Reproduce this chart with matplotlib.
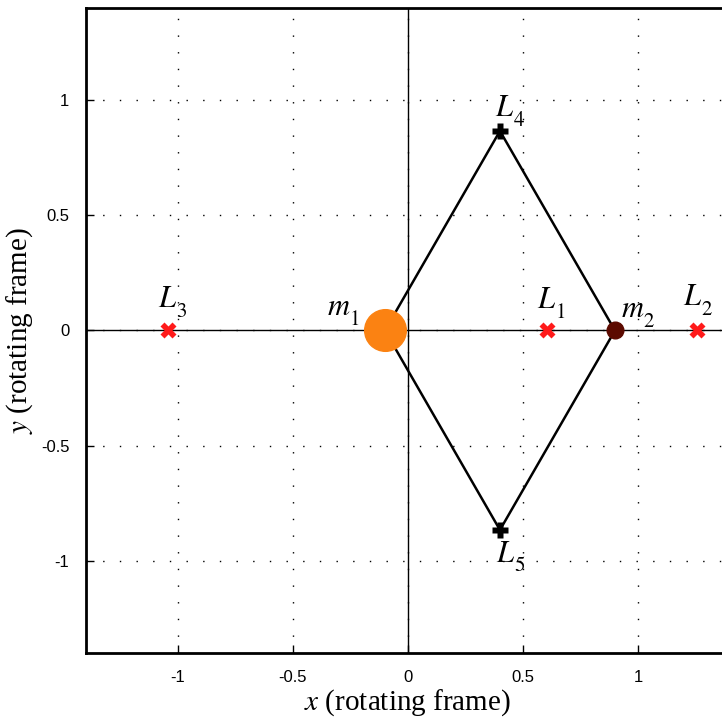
import matplotlib.pyplot as plt

plt.rcParams['mathtext.fontset'] = 'stix'

# primaries
m1_x, m2_x = -0.1, 0.9
# lagrange points
L_x = [0.604, 1.257, -1.043]
L_y = [0.0, 0.0, 0.0]
tri_x = [0.4, 0.4]
tri_y = [0.866, -0.866]

fig = plt.figure(figsize=(7.22, 7.17), dpi=100)
ax = fig.add_axes([0.119, 0.0893, 0.892, 0.8996])
ax.set_xlim(-1.4, 1.4)
ax.set_ylim(-1.4, 1.4)

ax.grid(True, color='black', linestyle=(0, (1, 11)), linewidth=1)
ax.axhline(0, color='black', lw=1, zorder=1)
ax.axvline(0, color='black', lw=1, zorder=1)

# equilateral triangles
ax.plot([m1_x, tri_x[0], m2_x, tri_x[1], m1_x],
        [0, tri_y[0], 0, tri_y[1], 0], color='black', lw=1.8, zorder=2)

ax.plot(L_x, L_y, 'X', color='#ff1a1a', ms=11, mec='none', zorder=3)
ax.plot(tri_x, tri_y, 'P', color='black', ms=11, mec='none', zorder=3)
ax.plot([m1_x], [0], 'o', color='#fb8212', ms=30, zorder=4)
ax.plot([m2_x], [0], 'o', color='#5c0a00', ms=12, zorder=4)

# labels: letter + larger, lower subscript
def lab(x, y, letter, sub):
    ax.text(x, y, '$%s$' % letter, fontsize=22, ha='left', va='baseline', zorder=5)
    dx = 13.5 if letter == 'L' else 16
    ax.annotate(sub, xy=(x, y), xytext=(dx, -7), textcoords='offset points',
                fontsize=15, fontfamily='STIXGeneral', ha='left', va='baseline', zorder=5)

lab(0.561, 0.096, 'L', '1')
lab(1.196, 0.109, 'L', '2')
lab(-1.087, 0.100, 'L', '3')
lab(0.378, 0.930, 'L', '4')
lab(0.383, -1.004, 'L', '5')
lab(-0.352, 0.065, 'm', '1')
lab(0.926, 0.057, 'm', '2')

ax.set_xticks([-1, -0.5, 0, 0.5, 1])
ax.set_xticklabels(['-1', '-0.5', '0', '0.5', '1'])
ax.set_yticks([-1, -0.5, 0, 0.5, 1])
ax.set_yticklabels(['-1', '-0.5', '0', '0.5', '1'])
ax.tick_params(direction='in', length=6, width=1, labelsize=12, pad=12)
for t in ax.get_xticklabels() + ax.get_yticklabels():
    t.set_fontfamily('Liberation Sans')
for sp in ax.spines.values():
    sp.set_linewidth(2)

ax.set_xlabel('$x$ (rotating frame)', fontsize=21, fontfamily='Liberation Serif', labelpad=2)
ax.set_ylabel('$y$ (rotating frame)', fontsize=21, fontfamily='Liberation Serif', labelpad=4)

fig.savefig('out.png', dpi=100)
